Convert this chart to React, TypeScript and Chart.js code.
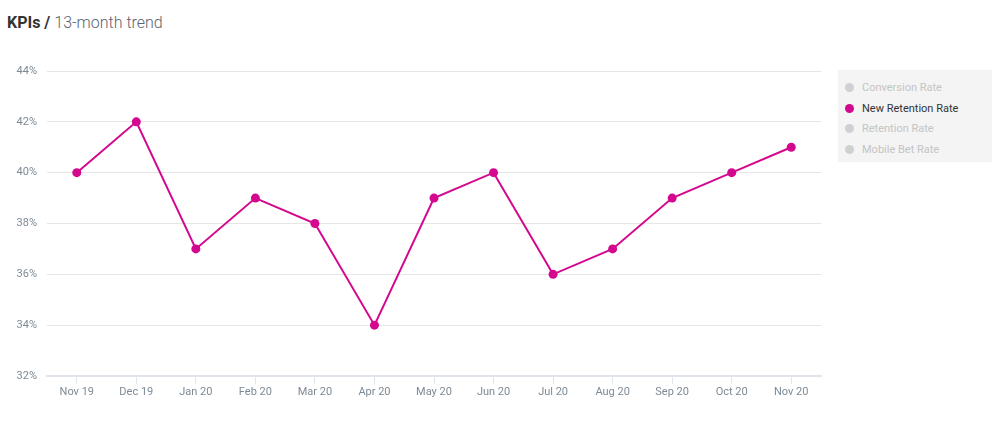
import { useEffect, useRef } from 'react'
import { Chart, registerables } from 'chart.js'

Chart.register(...registerables)

const months = ['Nov 19', 'Dec 19', 'Jan 20', 'Feb 20', 'Mar 20', 'Apr 20', 'May 20', 'Jun 20', 'Jul 20', 'Aug 20', 'Sep 20', 'Oct 20', 'Nov 20']
const newRetentionRate = [40, 42, 37, 39, 38, 34, 39, 40, 36, 37, 39, 40, 41]
const legendItems = ['Conversion Rate', 'New Retention Rate', 'Retention Rate', 'Mobile Bet Rate']
const activeSeries = 'New Retention Rate'

const MAGENTA = '#d4088f'
const TICK_COLOR = '#7d8a96'

function Legend() {
  return (
    <div
      style={{
        position: 'absolute',
        left: 838,
        top: 70,
        width: 154,
        height: 92,
        background: '#f4f4f4',
        boxSizing: 'border-box',
        paddingTop: 7,
      }}
    >
      {legendItems.map(name => {
        const active = name === activeSeries
        return (
          <div key={name} style={{ display: 'flex', alignItems: 'center', height: 20.7, paddingLeft: 7 }}>
            <span
              style={{
                width: 9,
                height: 9,
                borderRadius: '50%',
                background: active ? MAGENTA : '#d0d0d0',
                display: 'inline-block',
                marginRight: 8,
              }}
            />
            <span style={{ fontSize: 11, color: active ? '#333' : '#c4c4c4' }}>{name}</span>
          </div>
        )
      })}
    </div>
  )
}

export default function App() {
  const chartRef = useRef<HTMLCanvasElement>(null)
  const chartInstance = useRef<Chart | null>(null)

  useEffect(() => {
    if (!chartRef.current) return
    if (chartInstance.current) chartInstance.current.destroy()

    const ctx = chartRef.current.getContext('2d')
    if (!ctx) return

    chartInstance.current = new Chart(ctx, {
      type: 'line',
      data: {
        labels: months,
        datasets: [
          {
            label: activeSeries,
            data: newRetentionRate,
            borderColor: MAGENTA,
            backgroundColor: MAGENTA,
            borderWidth: 2,
            pointRadius: 4.5,
            pointHoverRadius: 5,
            pointBackgroundColor: MAGENTA,
            pointBorderWidth: 0,
            tension: 0,
          },
        ],
      },
      options: {
        responsive: false,
        animation: false,
        layout: { padding: { top: 71, right: 9, left: 0, bottom: 0 } },
        plugins: {
          legend: { display: false },
          tooltip: { enabled: false },
        },
        scales: {
          x: {
            offset: true,
            grid: {
              drawOnChartArea: false,
              drawTicks: true,
              tickLength: 8,
              color: '#dfe5eb',
              offset: false,
            },
            border: { display: true, color: '#dfe5eb', width: 2 },
            ticks: {
              color: TICK_COLOR,
              padding: 2,
              font: { family: 'Roboto', size: 11 },
            },
            afterFit: (scale: any) => {
              scale.height = 46
            },
          },
          y: {
            min: 32,
            max: 44,
            ticks: {
              stepSize: 2,
              color: TICK_COLOR,
              padding: 10,
              font: { family: 'Roboto', size: 11 },
              callback: (v: any) => `${v}%`,
            },
            grid: { color: '#e6e6e6', lineWidth: 1, drawTicks: false },
            border: { display: false },
            afterFit: (scale: any) => {
              scale.width = 47
            },
          },
        },
      },
    })

    return () => {
      if (chartInstance.current) {
        chartInstance.current.destroy()
        chartInstance.current = null
      }
    }
  }, [])

  return (
    <div
      style={{
        position: 'fixed',
        left: 0,
        top: 0,
        width: 1000,
        height: 422,
        background: '#fff',
        fontFamily: 'Roboto, sans-serif',
      }}
    >
      <div style={{ position: 'absolute', left: 7, top: 13, fontSize: 16, color: '#5a6470', whiteSpace: 'nowrap' }}>
        <span style={{ fontWeight: 700, color: '#333' }}>KPIs /</span>{' '}
        <span style={{ fontWeight: 300 }}>13-month trend</span>
      </div>
      <canvas ref={chartRef} width={830} height={422} style={{ position: 'absolute', left: 0, top: 0 }} />
      <Legend />
    </div>
  )
}
